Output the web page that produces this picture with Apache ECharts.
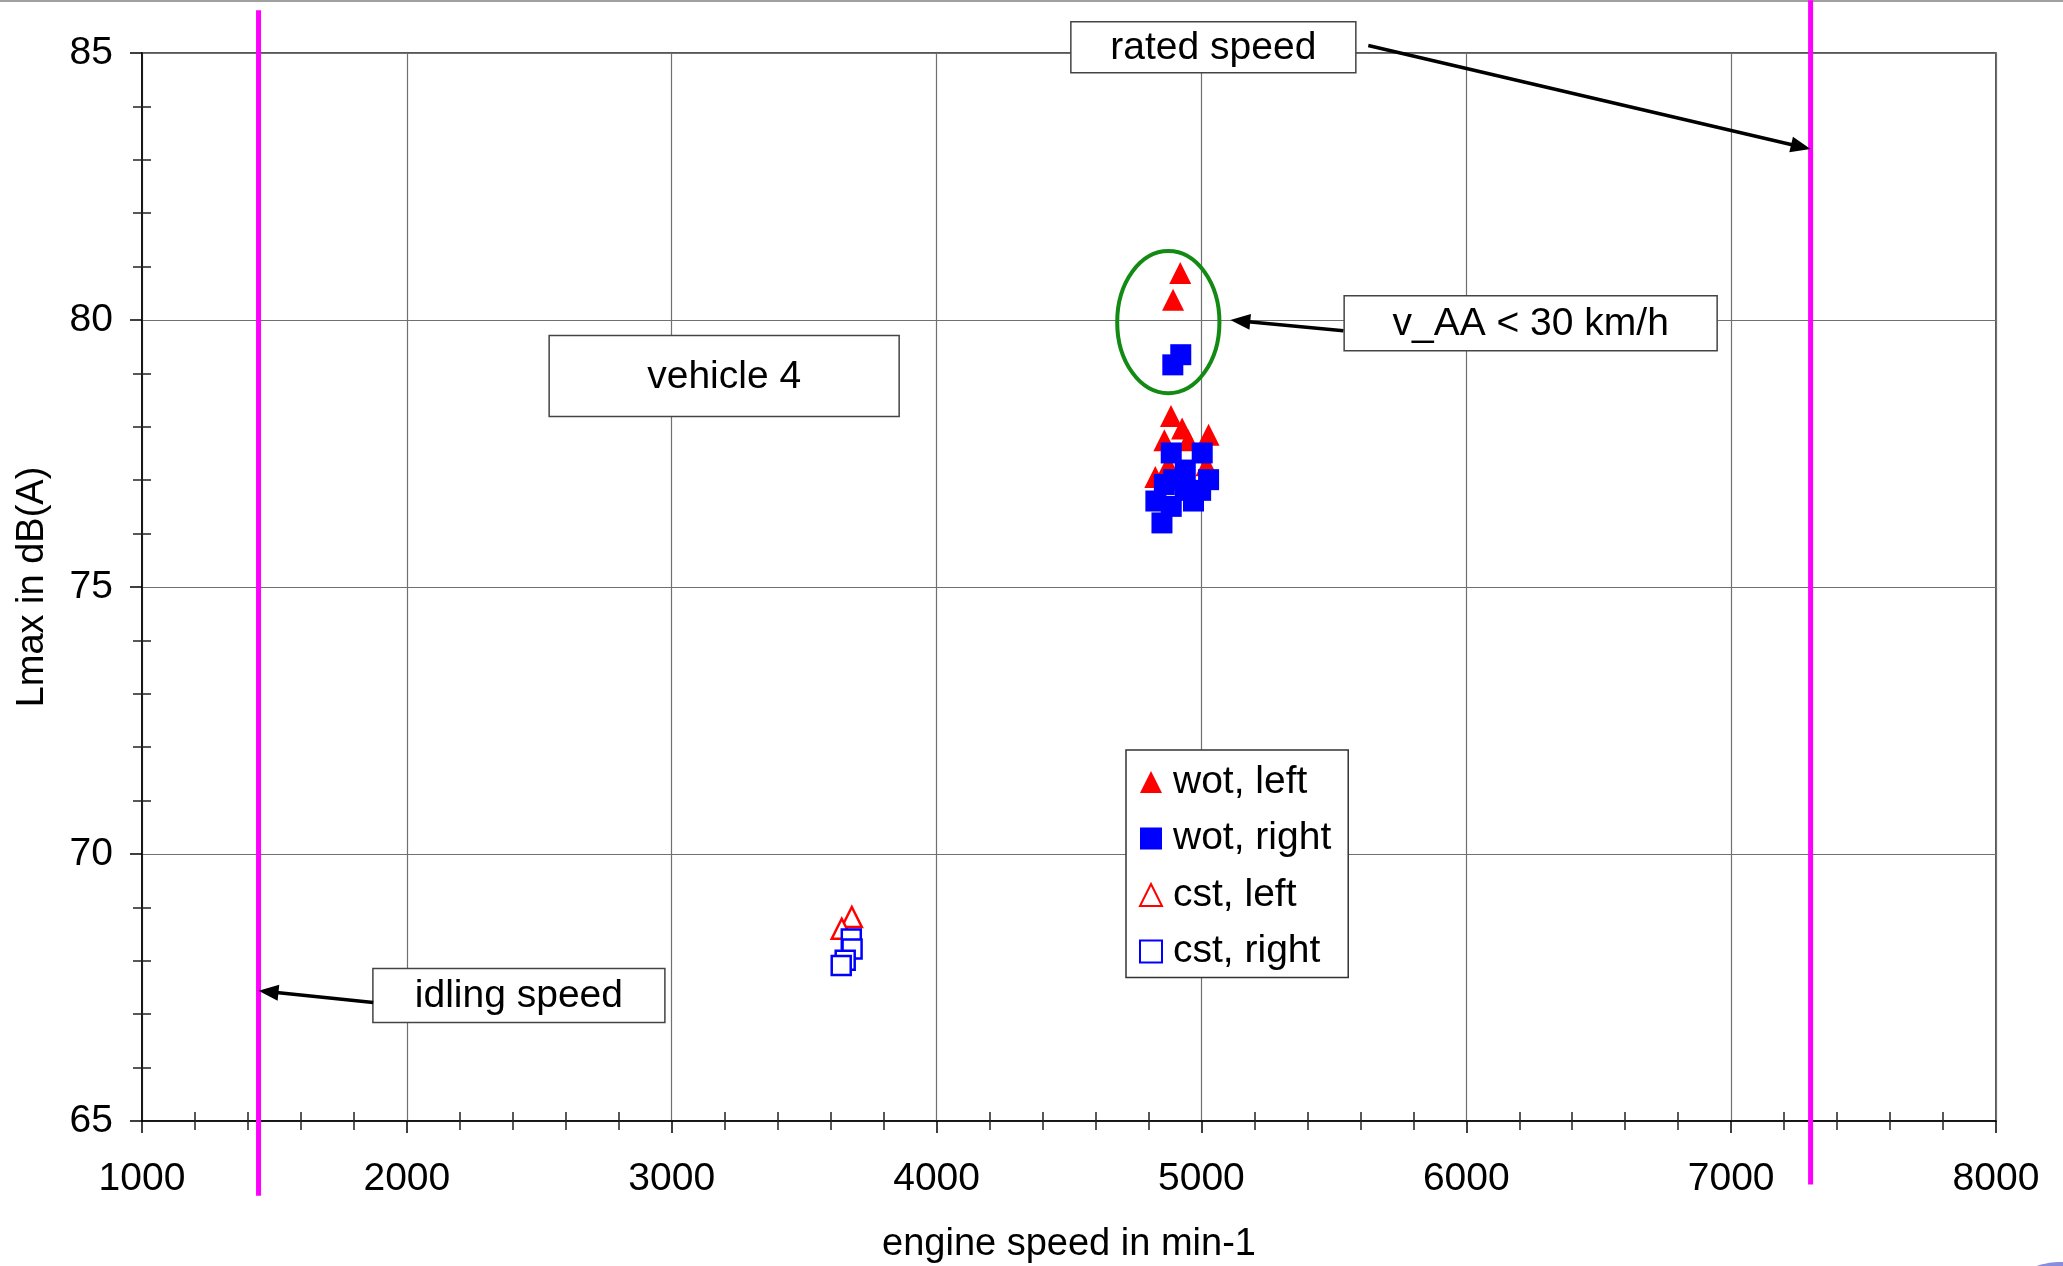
<!DOCTYPE html>
<html><head><meta charset="utf-8">
<script src="https://cdn.jsdelivr.net/npm/echarts@6/dist/echarts.min.js"></script>
<style>html,body{margin:0;padding:0;background:#fff}#c{width:2063px;height:1266px}</style>
</head><body><div id="c"></div><script>
// ---- data (engine speed [min-1], Lmax [dB(A)]) ----
const wotLeft = [[4920,80.88],[4893,80.38],[4885,78.2],[4927,77.97],[4860,77.75],[5027,77.85],[4826,77.06],[4875,77.28],[5019,77.28],[4950,77.75]];
const wotRight = [[4922,79.35],[4892,79.16],[4886,77.51],[5003,77.51],[5027,77.01],[4860,76.92],[4828,76.61],[4851,76.20],[4886,76.51],[4970,76.61],[4997,76.81],[4895,77.01],[4939,77.19],[4939,76.81]];
const cstLeft = [[3680,68.82],[3642,68.60]];
const cstRight = [[3678,68.41],[3681,68.22],[3655,68.01],[3640,67.91]];
const idleLine = [[1440,85.8],[1440,63.6]];
const ratedLine = [[7300,85.99],[7300,63.81]];
const legendNames = ['wot, left','wot, right','cst, left','cst, right'];
const xRange = [1000, 8000, 1000];
const yRange = [65, 85, 5];

// ---- annotations (anchored in data coordinates) ----
const boxes = [
  {text:'rated speed', at:[5045,85.11], w:285, h:51},
  {text:'v_AA < 30 km/h', at:[6243,79.94], w:373, h:55},
  {text:'vehicle 4', at:[3198,78.95], w:350, h:81},
  {text:'idling speed', at:[2423,67.35], w:292, h:54}
];
const arrows = [
  {from:[5630,85.14], to:[7300,83.2]},
  {from:[5536,79.8], to:[5109,80.0]},
  {from:[1873,67.22], to:[1440,67.44]}
];
const ellipseAnno = {center:[4875,79.96], rx:193, ry:1.33};

const FONT = '"Liberation Sans", Arial, Helvetica, sans-serif';
const chart = echarts.init(document.getElementById('c'));

function xAxisDef(main){
  return {
    type:'value', min:xRange[0], max:xRange[1], interval:xRange[2], position:'bottom',
    name: main ? 'engine speed in min-1' : '', nameLocation:'middle', nameGap:105,
    nameTextStyle:{fontSize:38, color:'#000', fontFamily:FONT},
    axisLine:{show:main, onZero:false, lineStyle:{color:'#000', width:1.5}},
    axisTick:{show:main, inside:!main, length:12, lineStyle:{color:'#000', width:1.5}},
    minorTick:{show:true, splitNumber:5, length:9, lineStyle:{color:'#222', width:1.5}},
    axisLabel:{show:main, fontSize:39, color:'#000', margin:39, fontFamily:FONT, formatter:v=>String(v)},
    splitLine:{show:main, lineStyle:{color:'#707070', width:1.2}},
    minorSplitLine:{show:false}
  };
}
function yAxisDef(main){
  return {
    type:'value', min:yRange[0], max:yRange[1], interval:yRange[2], position:'left',
    name: main ? 'Lmax in dB(A)' : '', nameLocation:'middle', nameGap:90,
    nameTextStyle:{fontSize:38, color:'#000', fontFamily:FONT},
    axisLine:{show:main, onZero:false, lineStyle:{color:'#000', width:1.5}},
    axisTick:{show:main, inside:!main, length:12, lineStyle:{color:'#000', width:1.5}},
    minorTick:{show:true, splitNumber:5, length:9, lineStyle:{color:'#222', width:1.5}},
    axisLabel:{show:main, fontSize:39, color:'#000', margin:29, fontFamily:FONT, formatter:v=>String(v)},
    splitLine:{show:main, lineStyle:{color:'#707070', width:1.2}},
    minorSplitLine:{show:false}
  };
}

const option = {
  animation:false,
  backgroundColor:'#fff',
  grid:{left:142, right:67, top:53, bottom:145, containLabel:false, outerBoundsMode:'none',
        show:true, borderColor:'#222', borderWidth:1.5, backgroundColor:'transparent'},
  xAxis:[xAxisDef(true), xAxisDef(false)],
  yAxis:[yAxisDef(true), yAxisDef(false)],
  legend:{
    orient:'vertical', left:1126, top:750, data:legendNames,
    itemWidth:22, itemHeight:22, itemGap:16.5, padding:[12,17,6,13],
    backgroundColor:'#fff', borderColor:'#333', borderWidth:1.5,
    selectedMode:false,
    textStyle:{fontSize:39, color:'#000', fontFamily:FONT, lineHeight:40, padding:[0,0,0,6]}
  },
  series:[
    {name:'idle', type:'line', data:idleLine, clip:false, symbol:'none', silent:true, z:4,
     lineStyle:{color:'#ff00ff', width:5}},
    {name:'rated', type:'line', data:ratedLine, clip:false, symbol:'none', silent:true, z:4,
     lineStyle:{color:'#ff00ff', width:5}},
    {name:legendNames[0], type:'scatter', data:wotLeft, symbol:'triangle', symbolSize:22,
     itemStyle:{color:'#ff0000', opacity:1}, z:5},
    {name:legendNames[1], type:'scatter', data:wotRight, symbol:'rect', symbolSize:21,
     itemStyle:{color:'#0000ff', opacity:1}, z:5},
    {name:legendNames[2], type:'scatter', data:cstLeft, symbol:'triangle', symbolSize:20,
     itemStyle:{color:'#ffffff', borderColor:'#ff0000', borderWidth:2.5, opacity:1}, z:5},
    {name:legendNames[3], type:'scatter', data:cstRight, symbol:'rect', symbolSize:19,
     itemStyle:{color:'#ffffff', borderColor:'#0000ff', borderWidth:2.5, opacity:1}, z:5}
  ]
};
chart.setOption(option);

function px(p){ return chart.convertToPixel({seriesIndex:2}, p); }
const g = [];
// top frame line of the picture
g.push({type:'line', shape:{x1:0,y1:1,x2:2063,y2:1}, style:{stroke:'#a0a0a0', lineWidth:2}, z:1});
// ellipse
const ec = px(ellipseAnno.center);
const erx = Math.abs(px([ellipseAnno.center[0]+ellipseAnno.rx, ellipseAnno.center[1]])[0]-ec[0]);
const ery = Math.abs(px([ellipseAnno.center[0], ellipseAnno.center[1]+ellipseAnno.ry])[1]-ec[1]);
g.push({type:'ellipse', shape:{cx:ec[0], cy:ec[1], rx:erx, ry:ery}, style:{fill:'none', stroke:'#138a13', lineWidth:4}, z:20});
// boxes
boxes.forEach(b=>{
  const c = px(b.at);
  g.push({type:'rect', shape:{x:c[0]-b.w/2, y:c[1]-b.h/2, width:b.w, height:b.h},
    style:{fill:'#fff', stroke:'#444', lineWidth:1.5}, z:20});
  g.push({type:'text', x:c[0], y:c[1]+1, style:{text:b.text, fill:'#000', fontSize:39, fontFamily:FONT,
    align:'center', verticalAlign:'middle'}, z:21});
});
// arrows
arrows.forEach(a=>{
  const s = px(a.from), e = px(a.to);
  const dx = e[0]-s[0], dy = e[1]-s[1], L = Math.hypot(dx,dy);
  const ux = dx/L, uy = dy/L, nx = -uy, ny = ux;
  const hl = 20, hw = 8;
  const bx = e[0]-ux*hl, by = e[1]-uy*hl;
  g.push({type:'line', shape:{x1:s[0], y1:s[1], x2:bx+ux*2, y2:by+uy*2}, style:{stroke:'#000', lineWidth:3.5}, z:22});
  g.push({type:'polygon', shape:{points:[[e[0],e[1]],[bx+nx*hw,by+ny*hw],[bx-nx*hw,by-ny*hw]]}, style:{fill:'#000'}, z:22});
});
// small logo fragment bottom right
g.push({type:'ellipse', shape:{cx:2062, cy:1276, rx:36, ry:14}, style:{fill:'#6b70d6', opacity:0.8}, z:1});
chart.setOption({graphic:g});
</script></body></html>
